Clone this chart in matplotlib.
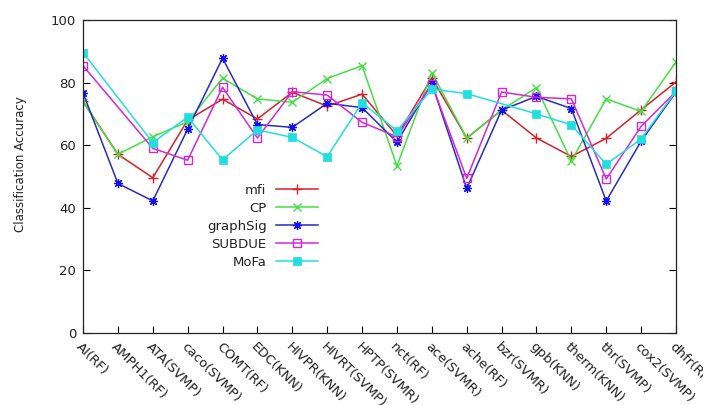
import numpy as np
import matplotlib
matplotlib.use("Agg")
import matplotlib.pyplot as plt

categories = ["AI(RF)", "AMPH1(RF)", "ATA(SVMP)", "caco(SVMP)", "COMT(RF)", "EDC(KNN)",
              "HIVPR(KNN)", "HIVRT(SVMP)", "HPTP(SVMR)", "nct(RF)", "ace(SVMR)", "ache(RF)",
              "bzr(SVMR)", "gpb(KNN)", "therm(KNN)", "thr(SVMP)", "cox2(SVMP)", "dhfr(RF)"]

nan = np.nan
mfi      = [74.0, 57.1, 49.6, 68.0, 74.7, 68.4, 76.9, 72.5, 76.3, 63.0, 81.5, 62.3, 71.2, 62.3, 56.4, 62.2, 71.3, 80.2]
cp       = [73.9, 57.1, 62.7, 67.5, 81.4, 74.8, 73.7, 81.3, 85.4, 53.4, 83.2, 62.3, 71.2, 78.4, 55.0, 74.8, 70.8, 86.6]
graphsig = [76.7, 47.8, 42.2, 65.1, 87.8, 66.6, 65.7, 73.4, 72.0, 61.0, 79.8, 46.2, 71.2, 75.6, 71.7, 42.2, 61.3, 77.0]
subdue   = [85.4, nan,  59.0, 55.2, 78.5, 62.3, 77.1, 76.0, 67.3, 62.7, 79.5, 49.4, 77.0, 75.3, 74.8, 49.2, 66.0, 77.2]
mofa     = [89.6, nan,  60.8, 69.0, 55.3, 64.9, 62.5, 56.3, 73.6, 64.6, 77.9, 76.5, nan,  70.0, 66.5, 53.9, 62.0, 77.3]

series_names = ["mfi", "CP", "graphSig", "SUBDUE", "MoFa"]
yticks = [0, 20, 40, 60, 80, 100]

W, H = 703, 405
fig = plt.figure(figsize=(W / 100, H / 100), dpi=100)
ax = fig.add_axes([83 / W, 1 - 333 / H, (676 - 83) / W, (333 - 20) / H])

styles = [
    dict(color="#d8202c", marker="+", ms=7, mew=1.0, mfc="#d8202c"),
    dict(color="#44e044", marker="x", ms=5.5, mew=1.0, mfc="#44e044"),
    dict(color="#2a2ac4", marker=(8, 2, 0), ms=6.5, mew=0.9, mec="#1010f0"),
    dict(color="#d428d4", marker="s", ms=6, mew=1.0, mfc="none"),
    dict(color="#22dede", marker="s", ms=6, mew=0.5, mfc="#22dede"),
]

x = np.arange(len(categories))
for name, vals, st in zip(series_names, [mfi, cp, graphsig, subdue, mofa], styles):
    v = np.array(vals, dtype=float)
    m = ~np.isnan(v)
    ax.plot(x[m], v[m], lw=1.1, label=name, **st)

ax.set_xlim(0, len(categories) - 1)
ax.set_ylim(0, 100)
ax.set_yticks(yticks)
ax.set_yticklabels([str(t) for t in yticks], fontsize=9.5, color="#222222")
ax.set_xticks(x)
ax.set_xticklabels(categories, rotation=-45, ha="left", va="top",
                   rotation_mode="anchor", fontsize=9.5, color="#222222")
ax.tick_params(axis="x", direction="in", length=5, width=0.8, pad=5, top=False)
ax.tick_params(axis="y", direction="in", length=5, width=0.8, pad=5, right=True)
for sp in ax.spines.values():
    sp.set_linewidth(0.9)
    sp.set_color("#222222")

ax.set_ylabel("Classification Accuracy", fontsize=8.5, color="#222222")
ax.yaxis.set_label_coords(-0.094, 0.54)

leg = ax.legend(loc="upper right", bbox_to_anchor=(318 / W, 1 - 184 / H),
                bbox_transform=fig.transFigure, frameon=False, markerfirst=False,
                fontsize=9.5, handlelength=3.2, handletextpad=0.7, labelspacing=0.38,
                borderpad=0, borderaxespad=0)
for t in leg.get_texts():
    t.set_color("#222222")

fig.savefig("out.png", dpi=100)
